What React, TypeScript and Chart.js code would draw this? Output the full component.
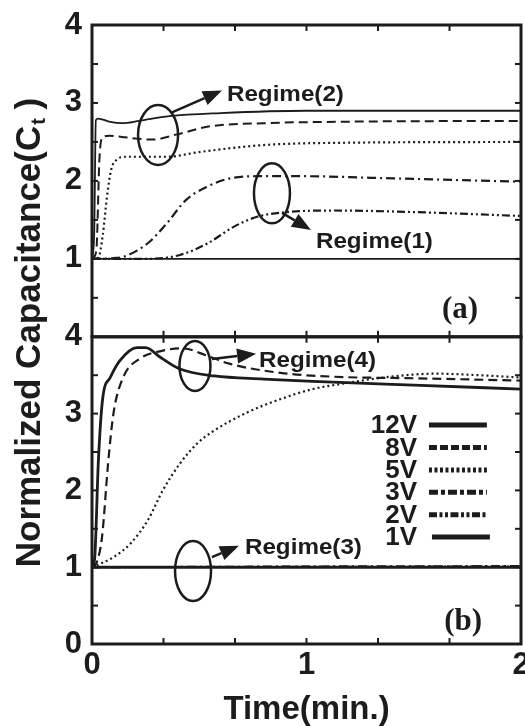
import React, { useEffect, useRef } from 'react';
import { Chart, registerables } from 'chart.js';

Chart.register(...registerables);

type P = [number, number];

// ---------- axes ----------
const timeTicks = [0, 1 / 3, 2 / 3, 1, 4 / 3, 5 / 3, 2];
const timeLabels = ['0', '', '', '1', '', '', '2'];
const capTicks = [0, 0.5, 1, 1.5, 2, 2.5, 3, 3.5, 4];
const topCapLabels = ['', '', '1', '', '2', '', '3', '', '4'];
const bottomCapLabels = ['0', '', '1', '', '2', '', '3', '', '4'];

const seriesNames = ['12V', '8V', '5V', '3V', '2V', '1V'];

// ---------- panel (a) ----------
const a12V: P[] = [[0, 1], [0.01, 1.3], [0.018, 2.78], [0.03, 2.8], [0.08, 2.76], [0.14, 2.74], [0.22, 2.77], [0.36, 2.83], [0.6, 2.87], [1.0, 2.9], [1.5, 2.9], [2, 2.9]];
const a8V: P[] = [[0, 1], [0.02, 1.1], [0.035, 2.3], [0.05, 2.56], [0.08, 2.58], [0.15, 2.56], [0.28, 2.53], [0.4, 2.6], [0.55, 2.7], [0.8, 2.74], [1.2, 2.76], [2, 2.77]];
const a5V: P[] = [[0, 1], [0.03, 1.02], [0.05, 1.3], [0.07, 1.8], [0.09, 2.15], [0.12, 2.28], [0.15, 2.31], [0.35, 2.31], [0.5, 2.37], [0.8, 2.46], [1.2, 2.49], [2, 2.5]];
const a3V: P[] = [[0, 1], [0.1, 1.01], [0.15, 1.03], [0.26, 1.2], [0.35, 1.46], [0.44, 1.76], [0.54, 1.93], [0.64, 2.03], [0.77, 2.06], [1.0, 2.06], [1.3, 2.04], [2, 1.99]];
const a2V: P[] = [[0, 1], [0.26, 1.0], [0.41, 1.05], [0.54, 1.2], [0.66, 1.41], [0.77, 1.54], [0.91, 1.6], [1.13, 1.62], [1.5, 1.6], [2, 1.55]];
const a1V: P[] = [[0, 1], [1, 1], [2, 1]];

// ---------- panel (b) ----------
const b12V: P[] = [[0, 1], [0.012, 1.1], [0.03, 2.4], [0.05, 3.2], [0.085, 3.47], [0.13, 3.69], [0.21, 3.86], [0.25, 3.86], [0.32, 3.73], [0.41, 3.58], [0.57, 3.49], [0.8, 3.45], [1.03, 3.42], [1.5, 3.37], [2, 3.32]];
const b8V: P[] = [[0, 1], [0.02, 1.05], [0.04, 1.26], [0.05, 1.48], [0.075, 2.35], [0.1, 3.0], [0.145, 3.47], [0.22, 3.71], [0.33, 3.82], [0.42, 3.85], [0.54, 3.75], [0.64, 3.65], [0.88, 3.53], [1.13, 3.48], [1.5, 3.46], [2, 3.43]];
const b5V: P[] = [[0, 1], [0.1, 1.13], [0.18, 1.31], [0.26, 1.61], [0.33, 2.0], [0.41, 2.35], [0.49, 2.61], [0.57, 2.78], [0.72, 3.01], [0.88, 3.19], [1.03, 3.32], [1.17, 3.39], [1.36, 3.47], [1.6, 3.52], [1.8, 3.5], [2, 3.47]];
const b3V: P[] = [[0, 1], [1, 1.01], [2, 1.015]];
const b2V: P[] = [[0, 1], [1, 1.005], [2, 1.01]];
const b1V: P[] = [[0, 1], [1, 1], [2, 1]];

// ---------- annotations ----------
const regimeTexts = ['Regime(1)', 'Regime(2)', 'Regime(3)', 'Regime(4)'];

const INK = '#1c1c1c';
const SANS = '"Liberation Sans", Arial, sans-serif';
const SERIF = '"Liberation Serif", "Times New Roman", serif';

const dashes: Record<string, number[]> = {
  '12V': [],
  '8V': [9, 5],
  '5V': [2, 3],
  '3V': [9, 4, 2, 4],
  '2V': [8, 3, 2, 3, 2, 3],
  '1V': [],
};
const legendDashes: Record<string, number[]> = {
  '12V': [],
  '8V': [8, 3],
  '5V': [3, 2.5],
  '3V': [9, 3, 4, 3],
  '2V': [8, 2.5, 3, 2.5, 3, 2.5],
  '1V': [],
};

function mk(name: string, pts: P[], axis: string, width: number) {
  return {
    label: name,
    data: pts.map(([x, y]) => ({ x, y })),
    yAxisID: axis,
    borderColor: INK,
    backgroundColor: INK,
    borderWidth: width,
    borderDash: dashes[name],
    pointRadius: 0,
    fill: false,
    cubicInterpolationMode: 'monotone' as const,
  };
}

function arrow(ctx: CanvasRenderingContext2D, x0: number, y0: number, x1: number, y1: number) {
  const head = 19, half = 7.5;
  const ang = Math.atan2(y1 - y0, x1 - x0);
  const c = Math.cos(ang), s = Math.sin(ang);
  const bx = x1 - head * c, by = y1 - head * s;
  ctx.beginPath();
  ctx.moveTo(x0, y0);
  ctx.lineTo(bx, by);
  ctx.stroke();
  ctx.beginPath();
  ctx.moveTo(x1, y1);
  ctx.lineTo(bx + half * s, by - half * c);
  ctx.lineTo(bx - half * s, by + half * c);
  ctx.closePath();
  ctx.fill();
}

function stretchText(ctx: CanvasRenderingContext2D, text: string, x: number, y: number, sx: number) {
  ctx.save();
  ctx.translate(x, y);
  ctx.scale(sx, 1);
  ctx.fillText(text, 0, 0);
  ctx.restore();
}

const framePlugin = {
  id: 'frame',
  afterDraw(chart: any) {
    const ctx: CanvasRenderingContext2D = chart.ctx;
    const xs = chart.scales.x;
    const panels = [chart.scales.yTop, chart.scales.yBot];
    ctx.save();
    ctx.strokeStyle = INK;
    ctx.fillStyle = INK;
    ctx.lineWidth = 2;
    ctx.setLineDash([]);
    const line = (a: number, b: number, c: number, d: number) => {
      ctx.beginPath(); ctx.moveTo(a, b); ctx.lineTo(c, d); ctx.stroke();
    };
    for (const s of panels) {
      timeTicks.forEach((v) => {
        if (v === 0 || v === 2) return;
        const px = xs.getPixelForValue(v);
        line(px, s.top, px, s.top + 6);
        line(px, s.bottom, px, s.bottom - 6);
      });
      capTicks.forEach((v) => {
        if (v === 0 || v === 4) return;
        const py = s.getPixelForValue(v);
        line(xs.left, py, xs.left + 6, py);
        line(xs.right, py, xs.right - 6, py);
      });
    }
    ctx.lineWidth = 3;
    for (const s of panels) {
      ctx.strokeRect(xs.left, s.top, xs.right - xs.left, s.bottom - s.top);
    }

    // y-axis title with subscript
    const cx = 28, cy = (chart.chartArea.top + chart.chartArea.bottom) / 2 - 2;
    ctx.translate(cx, cy);
    ctx.rotate(-Math.PI / 2);
    const big = `bold 35px ${SANS}`;
    const small = `bold 20px ${SANS}`;
    const p1 = 'Normalized Capacitance(C';
    const p2 = 't';
    const p3 = ' )';
    ctx.font = big;
    const w1 = ctx.measureText(p1).width;
    const w3 = ctx.measureText(p3).width;
    ctx.font = small;
    const w2 = ctx.measureText(p2).width;
    const total = w1 + w2 + w3;
    ctx.textBaseline = 'alphabetic';
    ctx.textAlign = 'left';
    let x0 = -total / 2;
    const base = 12;
    ctx.font = big;
    ctx.fillText(p1, x0, base);
    x0 += w1;
    ctx.font = small;
    ctx.fillText(p2, x0 + 1, base + 5);
    x0 += w2;
    ctx.font = big;
    ctx.fillText(p3, x0, base);
    ctx.restore();
  },
};

const annotPlugin = {
  id: 'annot',
  afterDatasetsDraw(chart: any) {
    const ctx: CanvasRenderingContext2D = chart.ctx;
    const xs = chart.scales.x, yt = chart.scales.yTop, yb = chart.scales.yBot;
    const X = (v: number) => xs.getPixelForValue(v);
    ctx.save();
    ctx.strokeStyle = INK;
    ctx.fillStyle = INK;
    ctx.setLineDash([]);
    ctx.lineWidth = 2.5;

    const ellipses: [any, number, number, number, number][] = [
      [yt, 0.308, 2.59, 20, 30],
      [yt, 0.839, 1.84, 18, 30],
      [yb, 0.48, 3.62, 15.5, 25],
      [yb, 0.471, 0.95, 18, 30],
    ];
    for (const [s, x, y, rx, ry] of ellipses) {
      ctx.beginPath();
      ctx.ellipse(X(x), s.getPixelForValue(y), rx, ry, 0, 0, Math.PI * 2);
      ctx.stroke();
    }
    const arrows: [any, number, number, number, number][] = [
      [yt, 0.373, 2.88, 0.606, 3.16],
      [yt, 0.886, 1.59, 1.021, 1.37],
      [yb, 0.559, 3.71, 0.765, 3.78],
      [yb, 0.559, 1.13, 0.685, 1.28],
    ];
    for (const [s, xa, ya, xb, yb2] of arrows) {
      arrow(ctx, X(xa), s.getPixelForValue(ya), X(xb), s.getPixelForValue(yb2));
    }
    ctx.font = `bold 22px ${SANS}`;
    ctx.textBaseline = 'middle';
    ctx.textAlign = 'left';
    const labels: [any, string, number, number][] = [
      [yt, regimeTexts[0], 1.044, 1.22],
      [yt, regimeTexts[1], 0.629, 3.1],
      [yb, regimeTexts[2], 0.713, 1.25],
      [yb, regimeTexts[3], 0.779, 3.68],
    ];
    for (const [s, t, x, y] of labels) {
      stretchText(ctx, t, X(x), s.getPixelForValue(y), 1.1);
    }

    ctx.font = `bold 31px ${SERIF}`;
    ctx.textAlign = 'center';
    ctx.fillText('(a)', X(1.716), yt.getPixelForValue(0.34));
    ctx.fillText('(b)', X(1.73), yb.getPixelForValue(0.29));

    // legend
    ctx.font = `bold 26px ${SANS}`;
    ctx.textAlign = 'right';
    const rowY0 = yb.getPixelForValue(2.85);
    seriesNames.forEach((n, i) => {
      const y = rowY0 + i * 22.4;
      ctx.fillText(n, X(1.515), y + 1);
      ctx.lineWidth = 5;
      ctx.setLineDash(legendDashes[n]);
      ctx.beginPath();
      const extra = n === '1V' ? 3 : 0;
      ctx.moveTo(X(1.571) + extra, y);
      ctx.lineTo(X(1.841) + extra, y);
      ctx.stroke();
    });
    ctx.restore();
  },
};

export default function App() {
  const ref = useRef<HTMLCanvasElement | null>(null);
  useEffect(() => {
    document.body.style.margin = '0';
    const canvas = ref.current;
    if (!canvas) return;
    const tickFont = { family: SANS, size: 31, weight: 'bold' as const };
    const yScale = (labels: string[], weight: number) => ({
      type: 'linear' as const,
      position: 'left' as const,
      stack: 'cap',
      stackWeight: weight,
      min: 0,
      max: 4,
      grid: { display: false, drawTicks: false },
      border: { display: false },
      afterBuildTicks: (s: any) => { s.ticks = capTicks.map((v) => ({ value: v })); },
      afterFit: (s: any) => { s.width = 92; s.paddingTop = 0; s.paddingBottom = 0; },
      ticks: {
        autoSkip: false,
        padding: 10,
        color: INK,
        font: tickFont,
        callback: (_v: any, i: number) => labels[i],
      },
    });
    const chart = new Chart(canvas, {
      type: 'line',
      data: {
        datasets: [
          mk('12V', a12V, 'yTop', 1.8),
          mk('8V', a8V, 'yTop', 2),
          mk('5V', a5V, 'yTop', 2.2),
          mk('3V', a3V, 'yTop', 2.2),
          mk('2V', a2V, 'yTop', 2.2),
          mk('1V', a1V, 'yTop', 1.8),
          mk('12V', b12V, 'yBot', 2.8),
          mk('8V', b8V, 'yBot', 2.2),
          mk('5V', b5V, 'yBot', 2.2),
          mk('3V', b3V, 'yBot', 2),
          mk('2V', b2V, 'yBot', 2),
          mk('1V', b1V, 'yBot', 3),
        ],
      },
      options: {
        animation: false,
        responsive: true,
        maintainAspectRatio: false,
        layout: { padding: { top: 25, right: 4, left: 0, bottom: 0 } },
        plugins: { legend: { display: false }, tooltip: { enabled: false } },
        scales: {
          x: {
            type: 'linear',
            position: 'bottom',
            min: 0,
            max: 2,
            grid: { display: false, drawTicks: false },
            border: { display: false },
            afterBuildTicks: (s: any) => { s.ticks = timeTicks.map((v) => ({ value: v })); },
            afterFit: (s: any) => { s.height = 82; s.paddingLeft = 0; s.paddingRight = 0; },
            ticks: {
              autoSkip: false,
              maxRotation: 0,
              padding: 3,
              color: INK,
              font: tickFont,
              callback: (_v: any, i: number) => timeLabels[i],
            },
            title: {
              display: true,
              text: 'Time(min.)',
              color: INK,
              font: { family: SANS, size: 33, weight: 'bold', lineHeight: 1 },
              padding: { top: 0, bottom: 0 },
            },
          },
          yBot: yScale(bottomCapLabels, 1),
          yTop: yScale(topCapLabels, 1.015),
        },
      } as any,
      plugins: [annotPlugin, framePlugin],
    });
    return () => chart.destroy();
  }, []);
  return (
    <div style={{ width: 525, height: 726, position: 'relative' }}>
      <canvas ref={ref} />
    </div>
  );
}
